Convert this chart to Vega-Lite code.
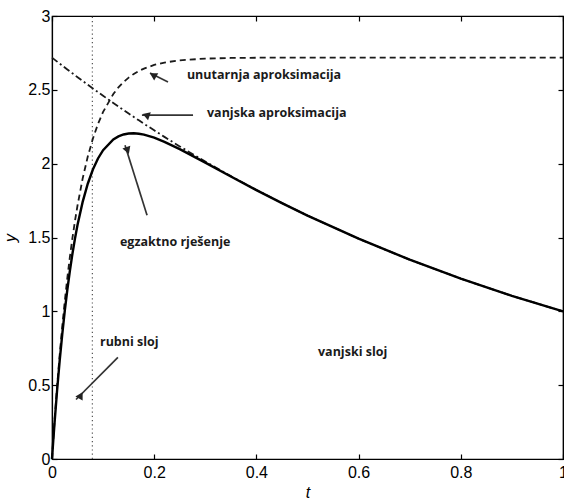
{
  "$schema": "https://vega.github.io/schema/vega-lite/v6.json",
  "width": 511,
  "height": 443,
  "autosize": {"type": "none"},
  "padding": {"left": 52, "top": 16, "right": 1, "bottom": 39},
  "background": "white",
  "config": {
    "view": {"stroke": "black", "strokeWidth": 1.2},
    "axis": {
      "domainColor": "black", "domainWidth": 1.2,
      "tickColor": "black", "tickSize": -5, "tickWidth": 1.2,
      "grid": false,
      "labelFont": "Liberation Sans", "labelFontSize": 16, "labelColor": "black",
      "titleFont": "Liberation Sans", "titleFontSize": 16, "titleColor": "black", "titleFontWeight": "normal",
      "labelFlush": false
    }
  },
  "datasets": {
    "curves": [
      {"t": 0, "exact": 0, "outer": 2.71828, "inner": 0},
      {"t": 0.0025, "exact": 0.12578, "outer": 2.71149, "inner": 0.13257},
      {"t": 0.005, "exact": 0.24512, "outer": 2.70472, "inner": 0.25868},
      {"t": 0.01, "exact": 0.46569, "outer": 2.69123, "inner": 0.49274},
      {"t": 0.015, "exact": 0.66405, "outer": 2.6778, "inner": 0.70453},
      {"t": 0.02, "exact": 0.84234, "outer": 2.66446, "inner": 0.89616},
      {"t": 0.025, "exact": 1.00244, "outer": 2.65116, "inner": 1.06956},
      {"t": 0.03, "exact": 1.14611, "outer": 2.63794, "inner": 1.22645},
      {"t": 0.035, "exact": 1.27492, "outer": 2.62478, "inner": 1.36842},
      {"t": 0.04, "exact": 1.3903, "outer": 2.6117, "inner": 1.49688},
      {"t": 0.045, "exact": 1.4935, "outer": 2.59867, "inner": 1.61311},
      {"t": 0.05, "exact": 1.58571, "outer": 2.58571, "inner": 1.71828},
      {"t": 0.06, "exact": 1.74125, "outer": 2.55998, "inner": 1.89955},
      {"t": 0.07, "exact": 1.86419, "outer": 2.53451, "inner": 2.04796},
      {"t": 0.08, "exact": 1.96048, "outer": 2.50929, "inner": 2.16947},
      {"t": 0.09, "exact": 2.03499, "outer": 2.48432, "inner": 2.26895},
      {"t": 0.1, "exact": 2.09172, "outer": 2.4596, "inner": 2.3504},
      {"t": 0.12, "exact": 2.1643, "outer": 2.4109, "inner": 2.47168},
      {"t": 0.13, "exact": 2.18501, "outer": 2.38691, "inner": 2.51638},
      {"t": 0.14, "exact": 2.19786, "outer": 2.36316, "inner": 2.55298},
      {"t": 0.15, "exact": 2.20432, "outer": 2.33965, "inner": 2.58295},
      {"t": 0.16, "exact": 2.20557, "outer": 2.31637, "inner": 2.60748},
      {"t": 0.17, "exact": 2.2026, "outer": 2.29332, "inner": 2.62756},
      {"t": 0.18, "exact": 2.19623, "outer": 2.2705, "inner": 2.64401},
      {"t": 0.2, "exact": 2.17575, "outer": 2.22554, "inner": 2.66849},
      {"t": 0.22, "exact": 2.1481, "outer": 2.18147, "inner": 2.68491},
      {"t": 0.25, "exact": 2.09868, "outer": 2.117, "inner": 2.69996},
      {"t": 0.3, "exact": 2.00701, "outer": 2.01375, "inner": 2.71154},
      {"t": 0.35, "exact": 1.91306, "outer": 1.91554, "inner": 2.7158},
      {"t": 0.4, "exact": 1.82121, "outer": 1.82212, "inner": 2.71737},
      {"t": 0.45, "exact": 1.73292, "outer": 1.73325, "inner": 2.71795},
      {"t": 0.5, "exact": 1.6486, "outer": 1.64872, "inner": 2.71816},
      {"t": 0.6, "exact": 1.49182, "outer": 1.49182, "inner": 2.71828},
      {"t": 0.7, "exact": 1.34986, "outer": 1.34986, "inner": 2.71828},
      {"t": 0.8, "exact": 1.2214, "outer": 1.2214, "inner": 2.71828},
      {"t": 0.9, "exact": 1.10517, "outer": 1.10517, "inner": 2.71828},
      {"t": 1.0, "exact": 1.0, "outer": 1.0, "inner": 2.71828}
    ],
    "boundary": [{"t": 0.079, "y0": 0, "y1": 3}],
    "labels": [
      {"name": "unutarnja", "text": "unutarnja aproksimacija", "t": 0.264, "y": 2.6},
      {"name": "vanjska", "text": "vanjska aproksimacija", "t": 0.3033, "y": 2.34},
      {"name": "egzaktno", "text": "egzaktno rješenje", "t": 0.133, "y": 1.47},
      {"name": "rubni", "text": "rubni sloj", "t": 0.0939, "y": 0.792},
      {"name": "vanjski", "text": "vanjski sloj", "t": 0.5205, "y": 0.722}
    ],
    "arrows": [
      {"name": "unutarnja", "t0": 0.227, "y0": 2.553, "t1": 0.1918, "y1": 2.614, "th": 0.1977, "yh": 2.6},
      {"name": "vanjska", "t0": 0.276, "y0": 2.329, "t1": 0.176, "y1": 2.329, "th": 0.184, "yh": 2.329},
      {"name": "egzaktno", "t0": 0.186, "y0": 1.651, "t1": 0.1429, "y1": 2.125, "th": 0.1448, "yh": 2.098},
      {"name": "rubni", "t0": 0.129, "y0": 0.688, "t1": 0.047, "y1": 0.403, "th": 0.0528, "yh": 0.4237}
    ]
  },
  "layer": [
    {
      "data": {"name": "boundary"},
      "mark": {"type": "rule", "color": "#555", "strokeWidth": 1.2, "strokeDash": [1.2, 3]},
      "encoding": {
        "x": {"field": "t", "type": "quantitative", "axis": null},
        "y": {"field": "y0", "type": "quantitative", "axis": null},
        "y2": {"field": "y1"}
      }
    },
    {
      "data": {"name": "curves"},
      "mark": {"type": "line", "color": "#1a1a1a", "strokeWidth": 1.8, "strokeDash": [7, 3, 2, 3]},
      "encoding": {
        "x": {"field": "t", "type": "quantitative", "axis": null},
        "y": {"field": "outer", "type": "quantitative", "axis": null}
      }
    },
    {
      "data": {"name": "curves"},
      "mark": {"type": "line", "color": "#1a1a1a", "strokeWidth": 1.8, "strokeDash": [6, 4]},
      "encoding": {
        "x": {"field": "t", "type": "quantitative", "scale": {"domain": [0, 1], "nice": false, "zero": false},
              "axis": {"orient": "top", "labels": false, "title": null, "values": [0, 0.2, 0.4, 0.6, 0.8, 1], "domain": true}},
        "y": {"field": "inner", "type": "quantitative", "scale": {"domain": [0, 3], "nice": false},
              "axis": {"orient": "right", "labels": false, "title": null, "values": [0, 0.5, 1, 1.5, 2, 2.5, 3], "domain": true}}
      }
    },
    {
      "data": {"name": "curves"},
      "mark": {"type": "line", "color": "black", "strokeWidth": 2.4},
      "encoding": {
        "x": {"field": "t", "type": "quantitative", "scale": {"domain": [0, 1], "nice": false, "zero": false},
              "axis": {"orient": "bottom", "title": "t", "titleFontStyle": "italic", "values": [0, 0.2, 0.4, 0.6, 0.8, 1], "format": "~g", "labelPadding": 10, "titlePadding": 4}},
        "y": {"field": "exact", "type": "quantitative", "scale": {"domain": [0, 3], "nice": false},
              "axis": {"orient": "left", "title": "y", "titleFontStyle": "italic", "values": [0, 0.5, 1, 1.5, 2, 2.5, 3], "format": "~g", "labelPadding": 7, "titlePadding": 9}}
      }
    },
    {
      "data": {"name": "arrows"},
      "mark": {"type": "rule", "color": "#333", "strokeWidth": 1.7},
      "encoding": {
        "x": {"field": "t0", "type": "quantitative", "axis": null},
        "y": {"field": "y0", "type": "quantitative", "axis": null},
        "x2": {"field": "t1"},
        "y2": {"field": "y1"}
      }
    },
    {
      "data": {"name": "arrows"},
      "mark": {"type": "point", "shape": "triangle-up", "filled": true, "color": "#222", "size": 70, "opacity": 1},
      "encoding": {
        "x": {"field": "th", "type": "quantitative", "axis": null},
        "y": {"field": "yh", "type": "quantitative", "axis": null},
        "angle": {"field": "name", "type": "nominal", "scale": {"domain": ["unutarnja", "vanjska", "egzaktno", "rubni"], "range": [299, 270, 343, 225]}, "legend": null}
      }
    },
    {
      "data": {"name": "labels"},
      "mark": {"type": "text", "align": "left", "baseline": "middle", "font": "Open Sans", "fontWeight": "bold", "fontSize": 12.5, "color": "#1a1a1a"},
      "encoding": {
        "x": {"field": "t", "type": "quantitative", "axis": null},
        "y": {"field": "y", "type": "quantitative", "axis": null},
        "text": {"field": "text"}
      }
    }
  ],
  "resolve": {"axis": {"x": "independent", "y": "independent"}}
}
